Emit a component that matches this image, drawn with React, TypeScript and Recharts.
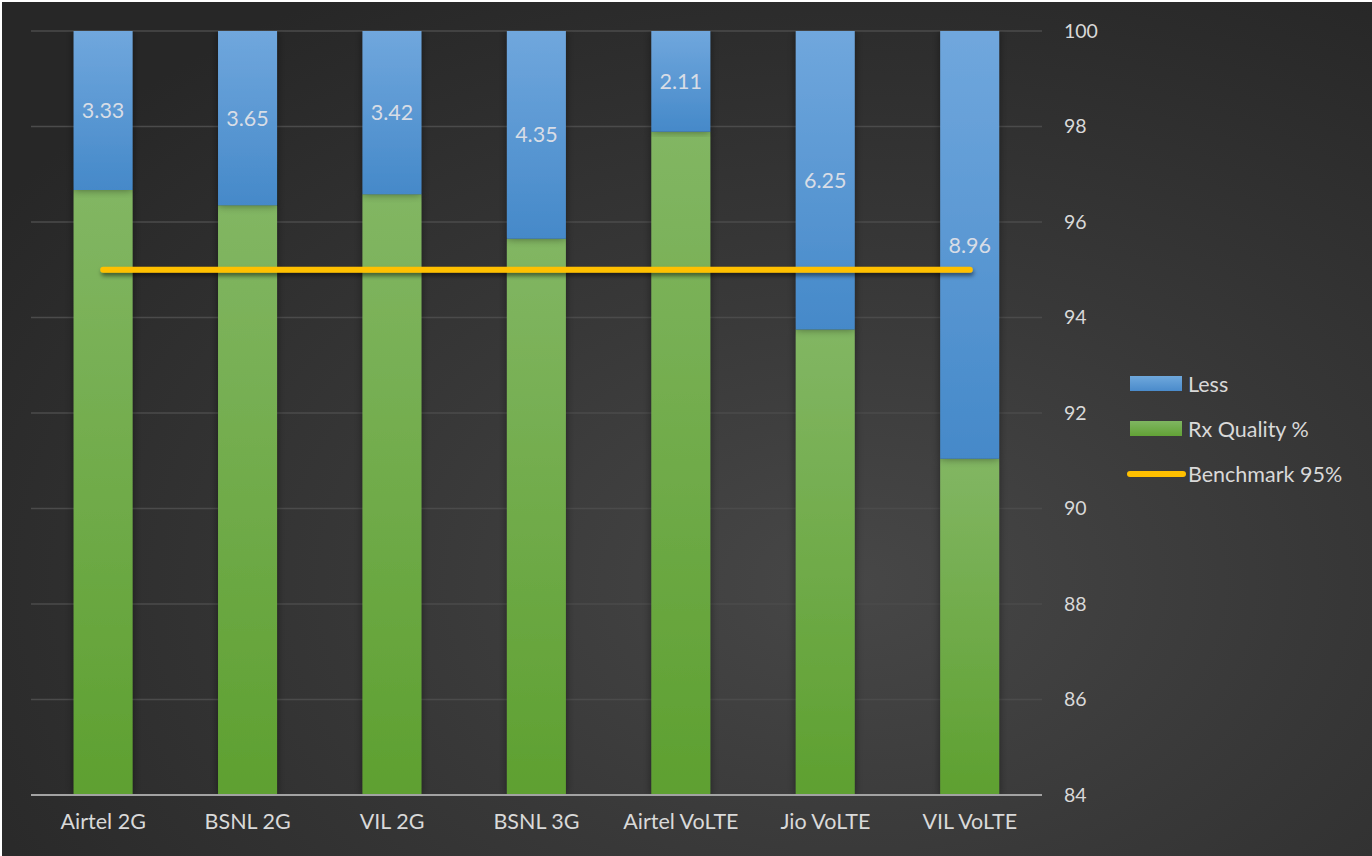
import React from 'react'
import { ComposedChart, Bar, Line, XAxis, YAxis, CartesianGrid, Legend, LabelList, Rectangle } from 'recharts'

// operators / technologies along the x axis
const categories = ['Airtel 2G', 'BSNL 2G', 'VIL 2G', 'BSNL 3G', 'Airtel VoLTE', 'Jio VoLTE', 'VIL VoLTE']
const rxQuality = [96.67, 96.35, 96.58, 95.65, 97.89, 93.75, 91.04]
const less = [3.33, 3.65, 3.42, 4.35, 2.11, 6.25, 8.96]
const benchmark = [95, 95, 95, 95, 95, 95, 95]
const yTicks = [84, 86, 88, 90, 92, 94, 96, 98, 100]

const data = categories.map((name, i) => ({
  name,
  rx: rxQuality[i],
  less: less[i],
  bench: benchmark[i],
}))

const W = 1370
const H = 854
const PLOT_BOTTOM = 793 // bottom of plot area in chart coords, green bars get clamped here
const FONT = 'Lato, "Open Sans", sans-serif'
const TEXT = '#d9d9d9'

const clampedBar = (fill: string) => (props: any) => {
  const bottom = Math.min(props.y + props.height, PLOT_BOTTOM)
  return (
    <Rectangle
      x={props.x}
      y={props.y}
      width={props.width}
      height={Math.max(0, bottom - props.y)}
      fill={fill}
      filter="url(#barShadow)"
    />
  )
}

const legendItems = [
  { label: 'Less', kind: 'bar', fill: 'url(#gBlueL)' },
  { label: 'Rx Quality %', kind: 'bar', fill: 'url(#gGreenL)' },
  { label: 'Benchmark 95%', kind: 'line', fill: '#FFC000' },
]

function LegendContent() {
  return (
    <div style={{ fontFamily: FONT, fontSize: 21.5, color: TEXT }}>
      {legendItems.map((it) => (
        <div key={it.label} style={{ display: 'flex', alignItems: 'center', height: 45 }}>
          <svg width={60} height={16} style={{ marginRight: 1 }}>
            <defs>
              <linearGradient id="gBlueL" x1="0" y1="0" x2="0" y2="1">
                <stop offset="0%" stopColor="#6FA8DC" />
                <stop offset="100%" stopColor="#4A8BCB" />
              </linearGradient>
              <linearGradient id="gGreenL" x1="0" y1="0" x2="0" y2="1">
                <stop offset="0%" stopColor="#7FB661" />
                <stop offset="100%" stopColor="#62A236" />
              </linearGradient>
            </defs>
            {it.kind === 'bar' ? (
              <rect x={3} y={0} width={52} height={15} fill={it.fill} />
            ) : (
              <line x1={3} y1={8} x2={56} y2={8} stroke={it.fill} strokeWidth={6} strokeLinecap="round" />
            )}
          </svg>
          <span>{it.label}</span>
        </div>
      ))}
    </div>
  )
}

export default function App() {
  return (
    <div style={{ position: 'fixed', left: 0, top: 0, width: 1372, height: 856, background: '#fff' }}>
      <div
        style={{
          position: 'absolute',
          left: 2,
          top: 2,
          width: W,
          height: H,
          background: 'radial-gradient(ellipse 75% 80% at 62% 68%, #474747 0%, #383838 45%, #272727 100%)',
        }}
      >
        <ComposedChart
          width={W}
          height={H}
          data={data}
          margin={{ top: 29, left: 29, right: 0, bottom: 0 }}
          barCategoryGap="29.5%"
        >
          <defs>
            <linearGradient id="gBlue" x1="0" y1="0" x2="0" y2="1">
              <stop offset="0%" stopColor="#70A7DD" />
              <stop offset="100%" stopColor="#4589C9" />
            </linearGradient>
            <linearGradient id="gGreen" x1="0" y1="0" x2="0" y2="1">
              <stop offset="0%" stopColor="#82B663" />
              <stop offset="100%" stopColor="#5EA030" />
            </linearGradient>
            <filter id="barShadow" x="-30%" y="-5%" width="160%" height="110%">
              <feDropShadow dx="0" dy="0" stdDeviation="4" floodColor="#000" floodOpacity="0.45" />
            </filter>
            <filter id="lineShadow" filterUnits="userSpaceOnUse" x="0" y="0" width={W} height={H}>
              <feDropShadow dx="1" dy="3" stdDeviation="2" floodColor="#000" floodOpacity="0.5" />
            </filter>
          </defs>
          <CartesianGrid vertical={false} stroke="#4b4b4b" strokeWidth={1.5} />
          <XAxis
            dataKey="name"
            height={61}
            tickLine={false}
            tickSize={0}
            tickMargin={19}
            axisLine={{ stroke: '#a3a3a3', strokeWidth: 2 }}
            tick={{ fill: TEXT, fontSize: 21.5, fontFamily: FONT }}
            interval={0}
          />
          <YAxis
            orientation="right"
            width={85}
            domain={[84, 100]}
            ticks={yTicks}
            allowDataOverflow
            axisLine={false}
            tickLine={false}
            tickSize={0}
            tickMargin={22}
            tick={{ fill: TEXT, fontSize: 19.5, fontFamily: FONT }}
          />
          <Legend
            layout="vertical"
            align="right"
            verticalAlign="middle"
            wrapperStyle={{ width: 245 }}
            content={<LegendContent />}
          />
          <Bar dataKey="rx" name="Rx Quality %" stackId="a" fill="url(#gGreen)" shape={clampedBar('url(#gGreen)')} isAnimationActive={false} />
          <Bar dataKey="less" name="Less" stackId="a" fill="url(#gBlue)" shape={clampedBar('url(#gBlue)')} isAnimationActive={false}>
            <LabelList dataKey="less" position="center" fill="#d8dde6" fontSize={21.5} fontFamily={FONT} />
          </Bar>
          <Line
            dataKey="bench"
            name="Benchmark 95%"
            type="linear"
            stroke="#FFC000"
            strokeWidth={6}
            strokeLinecap="round"
            dot={false}
            activeDot={false}
            filter="url(#lineShadow)"
            isAnimationActive={false}
          />
        </ComposedChart>
      </div>
    </div>
  )
}
